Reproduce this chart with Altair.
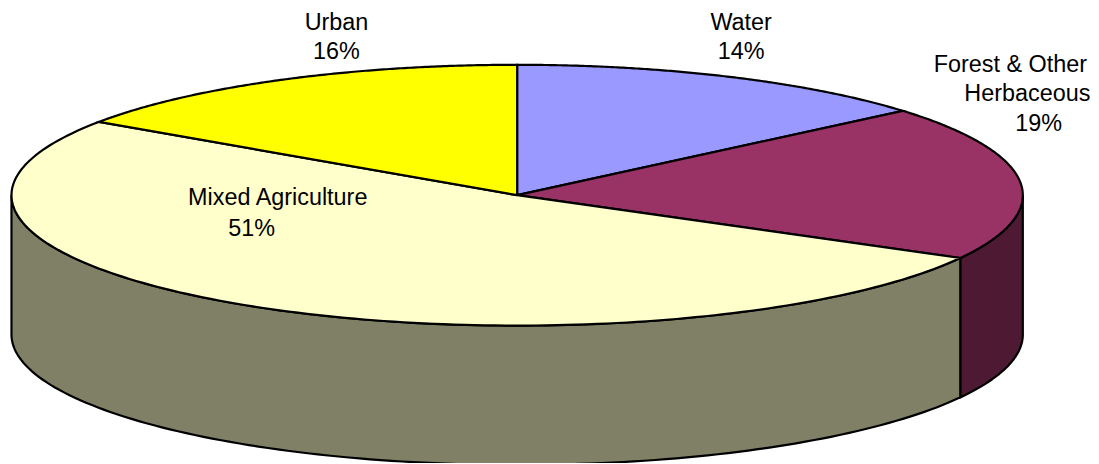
import math
import altair as alt
import pandas as pd

categories = ["Water", "Forest & Other Herbaceous", "Mixed Agriculture", "Urban"]
shares = [13.8, 19.2, 51.5, 15.5]
fills = ["#9999FF", "#993366", "#FFFFCC", "#FFFF00"]
wall_fills = ["#4D1933", "#808066"]
label_lines = [
    ["Urban", "16%"],
    ["Water", "14%"],
    ["Forest & Other", "Herbaceous", "19%"],
    ["Mixed Agriculture", "51%"],
]
label_pos = [
    [(330, 14), (330, 42.7)],
    [(736.5, 14), (736.5, 42.7)],
    [(1007, 56.7), (1024, 85.7), (1035.5, 115.5)],
    [(271, 189.5), (244.7, 220.5)],
]

# Geometry of the tilted disc in plot pixels
CX, CY, RX, RY, DEPTH = 511.5, 187, 508, 131, 140
W, H = 1060, 456


def rim(turn_deg, drop=0):
    a = math.radians(turn_deg)
    return CX + RX * math.sin(a), CY - RY * math.cos(a) + drop


rows = []


def add(name, pts):
    for i, (x, y) in enumerate(pts):
        rows.append({"shape": name, "x": x, "y": y, "i": i})


edges = [0]
for s in shares:
    edges.append(edges[-1] + s * 3.6)

wall_spans = [(90, edges[2]), (edges[2], 270)]
for k, (a, b) in enumerate(wall_spans):
    steps = [a + (b - a) * j / 120 for j in range(121)]
    pts = [rim(t) for t in steps] + [rim(t, DEPTH) for t in reversed(steps)]
    pts.append(pts[0])
    add(f"wall{k}", pts)

for k in range(4):
    a, b = edges[k], edges[k + 1]
    steps = [a + (b - a) * j / 160 for j in range(161)]
    pts = [(CX, CY)] + [rim(t) for t in steps] + [(CX, CY)]
    add(f"top{k}", pts)

df = pd.DataFrame(rows)
shape_names = ["wall0", "wall1", "top0", "top1", "top2", "top3"]
colors = wall_fills + fills

x_scale = alt.Scale(domain=[0, W], range=[0, W], nice=False, zero=False)
y_scale = alt.Scale(domain=[0, H], range=[0, H], nice=False, zero=False)

layers = []
for name, col in zip(shape_names, colors):
    layers.append(
        alt.Chart(df[df["shape"] == name])
        .mark_line(fill=col, stroke="black", strokeWidth=2.2, clip=True, interpolate="linear")
        .encode(
            x=alt.X("x:Q", scale=x_scale, axis=None),
            y=alt.Y("y:Q", scale=y_scale, axis=None),
            order="i:Q",
        )
    )

text_rows = []
for lines, ps in zip(label_lines, label_pos):
    for t, (x, y) in zip(lines, ps):
        text_rows.append({"x": x, "y": y, "t": t})

labels = (
    alt.Chart(pd.DataFrame(text_rows))
    .mark_text(font="Liberation Sans", fontSize=23.5, color="black", align="center", baseline="middle", clip=False)
    .encode(
        x=alt.X("x:Q", scale=x_scale, axis=None),
        y=alt.Y("y:Q", scale=y_scale, axis=None),
        text="t:N",
    )
)

chart = (
    alt.layer(*layers, labels)
    .properties(width=W, height=H, padding=0, background="white")
    .configure_view(stroke=None)
)
chart.save("out.html", embed_options={"renderer": "svg", "actions": False})
